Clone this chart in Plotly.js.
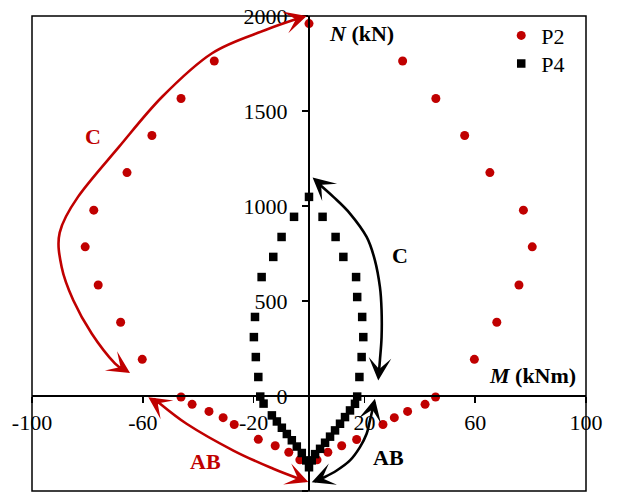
<!DOCTYPE html>
<html><head><meta charset="utf-8">
<script src="https://cdn.plot.ly/plotly-3.0.1.min.js"></script>
<style>html,body{margin:0;padding:0;background:#fff}</style>
</head><body><div id="chart" style="width:618px;height:501px"></div>
<script>
// ---- data (M in kNm, N in kN) ----
const P2_M = [0, 33.8, 45.8, 56.2, 65.3, 77.4, 80.6, 75.8, 67.8, 59.7, 45.7, 41.9, 35.6, 30.8, 26.7, 17.2, 11.8, 6.8, 2.9,
              -3.3, -7.3, -12.2, -18.3, -27.0, -31.0, -36.1, -42.2, -46.2, -60.2, -68.0, -76.1, -80.8, -77.7, -65.7, -56.7, -46.2, -34.2];
const P2_N = [1960, 1763, 1566, 1371, 1176, 978, 785, 584, 388, 193, -5, -44, -81, -114, -150, -229, -262, -296, -336,
              -336, -296, -262, -228, -150, -114, -81, -44, -5, 193, 388, 584, 785, 978, 1176, 1371, 1566, 1763];
const P4_M = [0, 4.9, 9.6, 12.4, 17.0, 17.4, 19.2, 19.6, 19.0, 18.2, 17.4, 16.6, 14.8, 13.0, 11.2, 9.4, 7.6, 5.8, 4.0, 2.2, 1.0,
              0, -1.0, -2.6, -4.4, -6.2, -8.0, -9.8, -11.6, -13.4, -16.4, -17.6, -18.3, -19.2, -19.9, -19.5, -17.1, -12.9, -9.9, -5.4];
const P4_N = [1048, 943, 837, 732, 626, 521, 416, 310, 205, 100, -3, -41, -76, -111, -146, -181, -214, -246, -278, -306, -339,
              -375, -339, -300, -266, -233, -200, -167, -134, -102, -40, -3, 100, 205, 310, 416, 626, 732, 837, 943];
const SERIES_NAMES = ['P2', 'P4'];
const X_TICK_VALS = [-100, -60, -20, 20, 60, 100];
const X_TICK_TEXT = ['-100', '-60', '-20', '20', '60', '100'];
const Y_TICK_VALS = [-500, 0, 500, 1000, 1500, 2000];
const Y_TICK_TEXT = ['-500', '0', '500', '1000', '1500', '2000'];

// ---- decorative arrow paths (data coords) ----
const RED = '#C00000';
const FONT = 'Liberation Serif, Times New Roman, serif';
const redC  = [[-2,1996],[-15.7,1926],[-35,1804],[-53,1575],[-68.6,1311],[-83.4,1048],[-90,860],[-89.3,679],[-85.1,504],[-78.4,328],[-70,170],[-66,135]];
const redAB = [[-56,-14],[-44.2,-146],[-27.3,-287],[-12.9,-383],[-1.5,-447]];
const blkC  = [[2.5,1130],[8.8,1048],[14.8,960],[20.8,837],[23.8,714],[25.6,574],[26.2,451],[26.2,310],[25.6,188],[25.1,100]];
const blkAB = [[23.6,-30],[22,-129],[20.8,-199],[18.4,-269],[14.8,-339],[10,-392],[5.2,-430],[2,-450]];

function smoothPath(p){
  let d = 'M' + p[0][0] + ',' + p[0][1];
  for (let i = 0; i < p.length - 1; i++){
    const p0 = p[Math.max(i-1,0)], p1 = p[i], p2 = p[i+1], p3 = p[Math.min(i+2,p.length-1)];
    const c1 = [p1[0] + (p2[0]-p0[0])/6, p1[1] + (p2[1]-p0[1])/6];
    const c2 = [p2[0] - (p3[0]-p1[0])/6, p2[1] - (p3[1]-p1[1])/6];
    d += ' C' + c1[0] + ',' + c1[1] + ' ' + c2[0] + ',' + c2[1] + ' ' + p2[0] + ',' + p2[1];
  }
  return d;
}
function curve(pts, color){
  return {type:'path', xref:'x', yref:'y', path: smoothPath(pts), line:{color:color, width:2.6}, layer:'above'};
}
function head(x, y, ax, ay, color){
  return {x:x, y:y, ax:ax, ay:ay, xref:'x', yref:'y', text:'', showarrow:true,
          arrowhead:3, arrowwidth:2.6, arrowsize:1.45, arrowcolor:color, standoff:0};
}
function label(x, y, text, color){
  return {x:x, y:y, xref:'x', yref:'y', text:'<b>'+text+'</b>', showarrow:false,
          font:{family:FONT, size:22, color:color}};
}

const traces = [
  {x:P2_M, y:P2_N, name:SERIES_NAMES[0], type:'scatter', mode:'markers', legend:'legend',
   marker:{symbol:'circle', size:9, color:RED}},
  {x:P4_M, y:P4_N, name:SERIES_NAMES[1], type:'scatter', mode:'markers', legend:'legend2',
   marker:{symbol:'square', size:8.5, color:'#000'}}
];

const axisCommon = {showgrid:false, zeroline:false, showline:true, linewidth:2, linecolor:'#000',
  ticks:'outside', ticklen:6, tickwidth:1.5, tickcolor:'#000',
  tickfont:{family:FONT, size:22, color:'#000'}, anchor:'free', fixedrange:true};

const legendCommon = {xanchor:'left', yanchor:'top', bgcolor:'rgba(0,0,0,0)',
  font:{family:FONT, size:22, color:'#000'}, tracegroupgap:0};

const layout = {
  width:618, height:501,
  margin:{l:32, r:32, t:16, b:10},
  paper_bgcolor:'#fff', plot_bgcolor:'#fff',
  font:{family:FONT, color:'#000'},
  xaxis: Object.assign({}, axisCommon, {range:[-100,100], position:0.2, tickmode:'array',
          tickvals:X_TICK_VALS, ticktext:X_TICK_TEXT, ticklabelstandoff:1}),
  yaxis: Object.assign({}, axisCommon, {range:[-500,2000], position:0.5, tickmode:'array',
          tickvals:Y_TICK_VALS, ticktext:Y_TICK_TEXT, ticklabelstandoff:10}),
  showlegend:true,
  legend: Object.assign({}, legendCommon, {x:0.847, y:1.003}),
  legend2: Object.assign({}, legendCommon, {x:0.847, y:0.944}),
  shapes:[
    {type:'rect', xref:'paper', yref:'paper', x0:0, y0:0, x1:1, y1:1, line:{color:'#000', width:1.5}},
    curve(redC, RED), curve(redAB, RED), curve(blkC, '#000'), curve(blkAB, '#000')
  ],
  annotations:[
    head(-0.8, 2000, -13.5, 4, RED),
    head(-64.6, 121, -11, -7, RED),
    head(-58, -6, 11, 7.5, RED),
    head(-0.25, -453, -12, -4.6, RED),
    head(1.3, 1150, 9.5, 8.3, '#000'),
    head(25, 82, 1, -13, '#000'),
    head(23.8, -14, -3, 13, '#000'),
    head(1, -454, 12, -4.6, '#000'),
    label(-78.1, 1364, 'C', RED),
    label(-37.5, -343, 'AB', RED),
    label(32.9, 741, 'C', '#000'),
    label(28.6, -322, 'AB', '#000'),
    {xref:'paper', yref:'paper', x:0.595, y:0.964, xanchor:'center', yanchor:'middle', showarrow:false,
     text:'<b><i>N</i> (kN)</b>', font:{family:FONT, size:22, color:'#000'}},
    {xref:'paper', yref:'paper', x:0.9035, y:0.243, xanchor:'center', yanchor:'middle', showarrow:false,
     text:'<b><i>M</i> (kNm)</b>', font:{family:FONT, size:22, color:'#000'}}
  ]
};

Plotly.newPlot('chart', traces, layout, {displayModeBar:false, staticPlot:true});
</script>
</body></html>
